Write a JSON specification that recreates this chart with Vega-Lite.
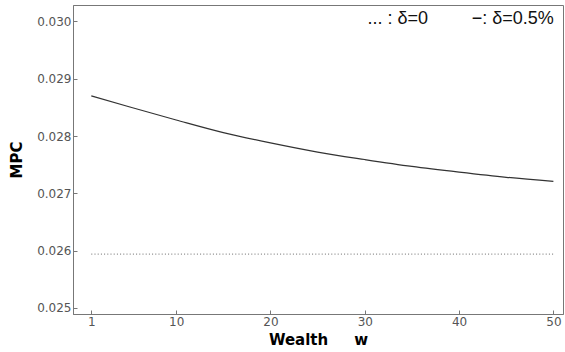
{
  "$schema": "https://vega.github.io/schema/vega-lite/v6.json",
  "width": 490,
  "height": 309,
  "autosize": {"type": "none"},
  "padding": {"left": 73, "top": 5, "right": 2, "bottom": 38},
  "background": "white",
  "config": {
    "view": {"stroke": "#777", "strokeWidth": 1},
    "axis": {
      "grid": false,
      "domainColor": "#777",
      "tickColor": "#777",
      "labelColor": "#555",
      "labelFont": "DejaVu Sans",
      "labelFontSize": 12,
      "titleFont": "DejaVu Sans",
      "titleFontSize": 15,
      "titleFontWeight": "bold",
      "titleColor": "#000"
    }
  },
  "datasets": {
    "curves": [
      {"w": 1, "mpc": 0.02870, "series": "delta 0.5%"},
      {"w": 5, "mpc": 0.02851, "series": "delta 0.5%"},
      {"w": 10, "mpc": 0.02828, "series": "delta 0.5%"},
      {"w": 15, "mpc": 0.02806, "series": "delta 0.5%"},
      {"w": 20, "mpc": 0.02788, "series": "delta 0.5%"},
      {"w": 25, "mpc": 0.02772, "series": "delta 0.5%"},
      {"w": 30, "mpc": 0.02759, "series": "delta 0.5%"},
      {"w": 35, "mpc": 0.02747, "series": "delta 0.5%"},
      {"w": 40, "mpc": 0.02737, "series": "delta 0.5%"},
      {"w": 45, "mpc": 0.02728, "series": "delta 0.5%"},
      {"w": 50, "mpc": 0.02721, "series": "delta 0.5%"},
      {"w": 1, "mpc": 0.02594, "series": "delta 0"},
      {"w": 50, "mpc": 0.02594, "series": "delta 0"}
    ],
    "notes": [
      {"w": 36.7, "mpc": 0.03004, "label": "... : δ=0"},
      {"w": 50.05, "mpc": 0.03004, "label": "−: δ=0.5%"}
    ]
  },
  "layer": [
    {
      "data": {"name": "curves"},
      "transform": [{"filter": "datum.series === 'delta 0'"}],
      "mark": {"type": "line", "color": "#888", "strokeWidth": 1.2, "strokeDash": [1, 2.2]},
      "encoding": {
        "x": {
          "field": "w", "type": "quantitative",
          "scale": {"domain": [-0.94, 51.02], "nice": false, "zero": false},
          "axis": {"values": [1, 10, 20, 30, 40, 50], "title": "Wealth\u00a0\u00a0\u00a0\u00a0\u00a0w", "tickSize": -4, "labelPadding": 6, "titlePadding": 5}
        },
        "y": {
          "field": "mpc", "type": "quantitative",
          "scale": {"domain": [0.024895, 0.030286], "nice": false, "zero": false},
          "axis": {"values": [0.025, 0.026, 0.027, 0.028, 0.029, 0.030], "format": ".3f", "title": "MPC", "tickSize": -4, "labelPadding": 6, "titlePadding": 12}
        }
      }
    },
    {
      "data": {"name": "curves"},
      "transform": [{"filter": "datum.series === 'delta 0.5%'"}],
      "mark": {"type": "line", "color": "#333", "strokeWidth": 1.2, "interpolate": "monotone"},
      "encoding": {
        "x": {"field": "w", "type": "quantitative"},
        "y": {"field": "mpc", "type": "quantitative"}
      }
    },
    {
      "data": {"name": "notes"},
      "mark": {"type": "text", "align": "right", "baseline": "middle", "font": "Liberation Sans", "fontSize": 18, "color": "#111"},
      "encoding": {
        "x": {"field": "w", "type": "quantitative"},
        "y": {"field": "mpc", "type": "quantitative"},
        "text": {"field": "label"}
      }
    }
  ]
}
